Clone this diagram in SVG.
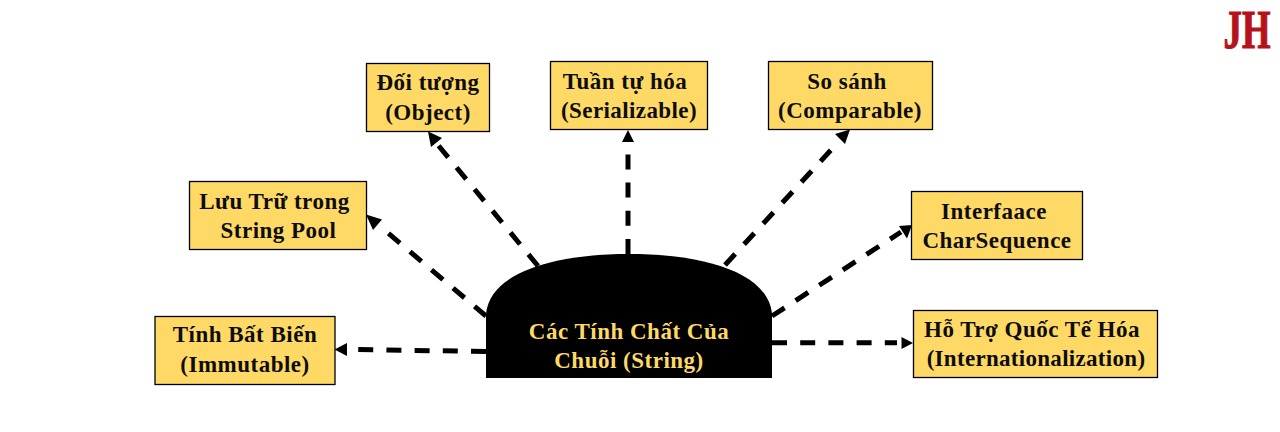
<svg xmlns="http://www.w3.org/2000/svg" width="1280" height="432" viewBox="0 0 1280 432">
<style>
.box{fill:#ffd966;stroke:#000;stroke-width:1.3}
.t{font-family:"Liberation Serif","Times New Roman",serif;font-weight:bold;font-size:23px;fill:#0d0d0d;letter-spacing:.5px;text-anchor:middle}
.c{fill:#ffd966}
.l{fill:none;stroke:#000;stroke-width:5;stroke-dasharray:15 13.200}
.a{fill:#000}
</style>
<rect width="1280" height="432" fill="#fff"/>
<g id="connectors">
<path class="l" d="M486 351.500 L357 349.500"/><path class="a" d="M334.500 349.500L347 343V356Z"/>
<path class="l" d="M486 316 L388 233"/><path class="a" d="M366 214.500L382 219.500L373 230Z"/>
<path class="l" d="M538 266 L438 145"/><path class="a" d="M428 131.500L442 138L431 147Z"/>
<path class="l" d="M628 254 V154"/><path class="a" d="M628 130L634 142H622Z"/>
<path class="l" d="M725 265 L831 150"/><path class="a" d="M850 129.500L845 144L835 134Z"/>
<path class="l" d="M772 316 L901 232"/><path class="a" d="M912 225L907 238.500L899 226Z"/>
<path class="l" d="M772 342.800 H897"/><path class="a" d="M913 343L901.500 337V349Z"/>
</g>
<g id="center">
<path d="M486 378V314C490 272 555 254 629 254C703 254 768 272 772 314V378Z" fill="#000"/>
<text class="t" x="629" y="338.500" style="fill:#ffd966">Các Tính Chất Của</text>
<text class="t" x="629" y="367.500" style="fill:#ffd966">Chuỗi (String)</text>
</g>
<g id="immutable"><rect class="box" x="155" y="316.500" width="180" height="68"/>
<text class="t" x="245" y="342">Tính Bất Biến</text>
<text class="t" x="245" y="372">(Immutable)</text></g>
<g id="stringpool"><rect class="box" x="189.500" y="181.500" width="177" height="68"/>
<text class="t" x="274.500" y="209">Lưu Trữ trong</text>
<text class="t" x="278.500" y="238">String Pool</text></g>
<g id="object"><rect class="box" x="366.500" y="63.500" width="123" height="68"/>
<text class="t" x="428" y="90">Đối tượng</text>
<text class="t" x="428" y="120">(Object)</text></g>
<g id="serializable"><rect class="box" x="550.500" y="61.500" width="157" height="68"/>
<text class="t" x="625" y="89">Tuần tự hóa</text>
<text class="t" x="629" y="118" style="letter-spacing:.4px">(Serializable)</text></g>
<g id="comparable"><rect class="box" x="768.500" y="61.500" width="164" height="68"/>
<text class="t" x="847" y="89">So sánh</text>
<text class="t" x="850" y="118">(Comparable)</text></g>
<g id="charsequence"><rect class="box" x="911.500" y="191.500" width="171" height="68"/>
<text class="t" x="994" y="219">Interfaace</text>
<text class="t" x="997" y="248">CharSequence</text></g>
<g id="i18n"><rect class="box" x="913.500" y="310.500" width="244" height="67"/>
<text class="t" x="1032" y="337">Hỗ Trợ Quốc Tế Hóa</text>
<text class="t" x="1036" y="366" style="letter-spacing:.3px">(Internationalization)</text></g>
<g id="logo"><text transform="translate(1247 47.500) scale(.68 1)" text-anchor="middle" font-family="Liberation Serif,serif" font-weight="bold" font-size="54" fill="#b5121b" stroke="#b5121b" stroke-width="1.2">JH</text></g>
</svg>
